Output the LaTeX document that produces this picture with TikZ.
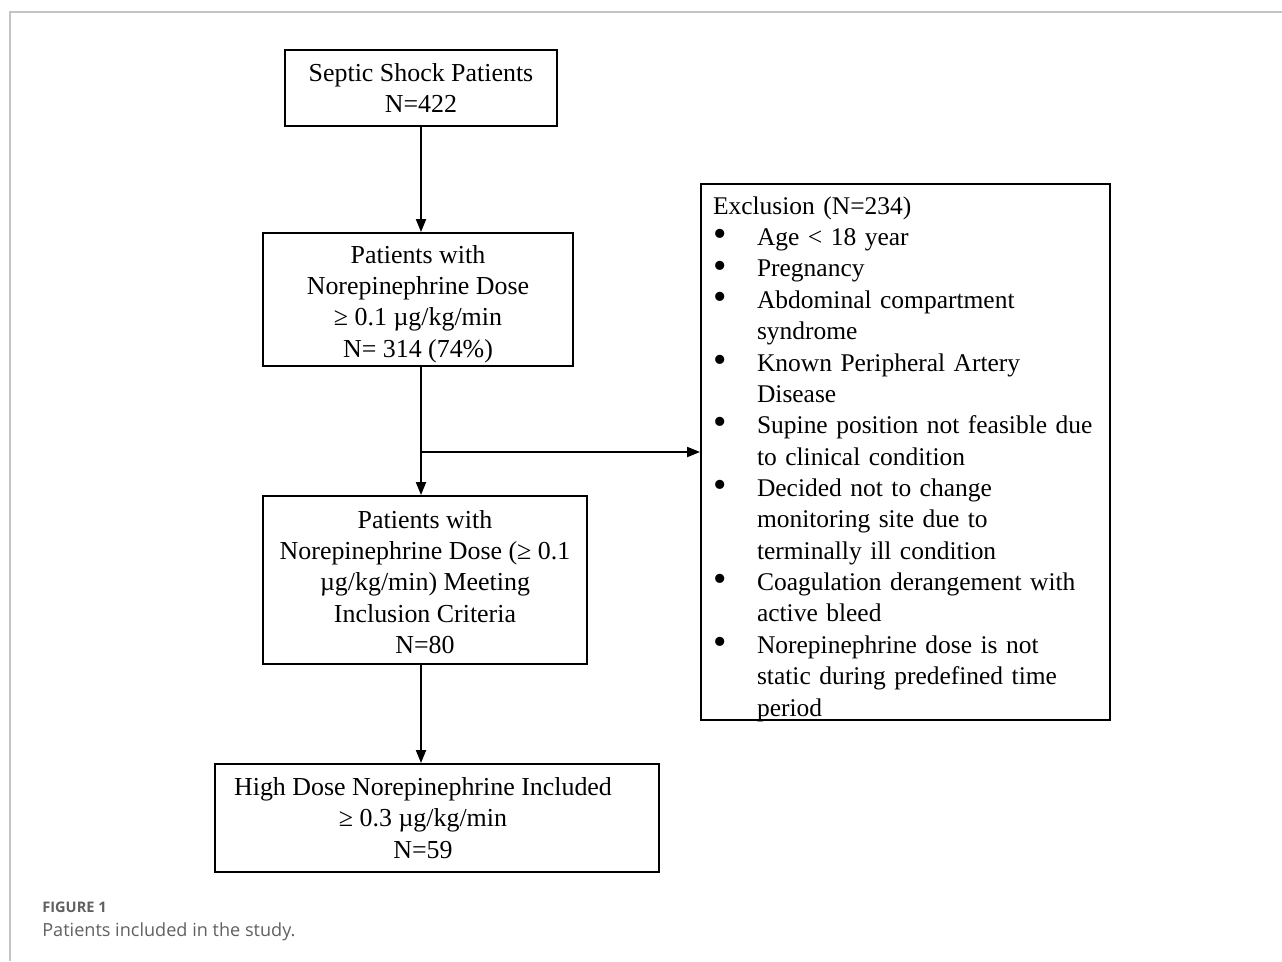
\documentclass[tikz,border=0pt]{standalone}
\usepackage{fontspec}
\setmainfont{Liberation Serif}
\newfontfamily\capfont{Open Sans}
\usetikzlibrary{arrows.meta,positioning}
\definecolor{framegray}{HTML}{C4C4C4}
\definecolor{capgray}{HTML}{606060}
\newcommand\exbul{\makebox[0.88cm][l]{\raisebox{-0.1ex}{\scalebox{1.5}{\textbullet}}}}
\newcommand\exind{\makebox[0.88cm]{}}

\begin{document}
\begin{tikzpicture}[x=0.02cm, y=-0.02cm,
  box/.style={draw, rectangle, line width=1.1pt, inner sep=0pt},
  boxtext/.style={align=center, inner sep=0pt, font=\fontsize{14.75}{17.8}\selectfont},
  arrow/.style={-{Triangle[length=2.6mm,width=2mm]}, line width=1.1pt},
  caption/.style={anchor=base west, inner sep=0pt, text=capgray}]
\useasboundingbox (0,0) rectangle (1282,961);
% Frame
\draw[framegray, line width=0.8pt] (10,961) -- (10,12) -- (1282,12);

% Septic shock patients
\node[box, minimum width=5.44cm, minimum height=1.52cm] (septic) at (421,88) {};
\node[boxtext] (septictext) at (421,88) {Septic Shock Patients\\N=422};

% Norepinephrine dose
\node[box, minimum width=6.2cm, minimum height=2.66cm] (dose) at (418,299.5) {};
\node[boxtext] (dosetext) at (418,304) {Patients with\\Norepinephrine Dose\\≥ 0.1 µg/kg/min\\N= 314 (74\%)};

% Inclusion criteria
\node[box, minimum width=6.48cm, minimum height=3.36cm] (incl) at (425,580) {};
\node[boxtext] (incltext) at (425,582) {Patients with\\Norepinephrine Dose (≥ 0.1\\µg/kg/min) Meeting\\Inclusion Criteria\\N=80};

% High dose
\node[box, minimum width=8.88cm, minimum height=2.16cm] (high) at (437,818) {};
\node[boxtext] (hightext) at (423,818) {High Dose Norepinephrine Included\\≥ 0.3 µg/kg/min\\N=59};

% Exclusion
\node[box, minimum width=8.18cm, minimum height=10.72cm] (excl) at (905.5,452) {};
\node[boxtext, align=left, text width=7.85cm, font=\fontsize{14.5}{17.85}\selectfont] (excltext) at (909.25,459) {%
Exclusion (N=234)\\
\exbul Age < 18 year\\
\exbul Pregnancy\\
\exbul Abdominal compartment\\
\exind syndrome\\
\exbul Known Peripheral Artery\\
\exind Disease\\
\exbul Supine position not feasible due\\
\exind to clinical condition\\
\exbul Decided not to change\\
\exind monitoring site due to\\
\exind terminally ill condition\\
\exbul Coagulation derangement with\\
\exind active bleed\\
\exbul Norepinephrine dose is not\\
\exind static during predefined time\\
\exind period};

% Arrows
\coordinate (split) at (septic.south |- excl.west);
\draw[arrow] (septic.south) -- (septic.south |- dose.north);
\draw[arrow] (septic.south |- dose.south) -- (septic.south |- incl.north);
\draw[arrow] (split) -- (excl.west);
\draw[arrow] (septic.south |- incl.south) -- (septic.south |- high.north);

% Caption
\node[caption, font=\capfont\bfseries\fontsize{8.3}{10}\selectfont] (figlabel) at (42,912) {FIGURE 1};
\node[caption, font=\capfont\fontsize{10.3}{12}\selectfont] (figtext) at (42,936) {Patients included in the study.};
\end{tikzpicture}
\end{document}
